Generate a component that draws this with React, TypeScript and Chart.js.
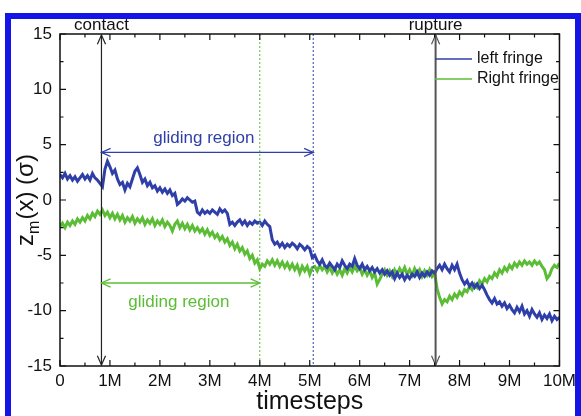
import { useEffect, useRef } from 'react';
import { Chart, registerables } from 'chart.js';

Chart.register(...registerables);

const W = 581;
const H = 416;
const FONT = "'Liberation Sans', Arial, Helvetica, sans-serif";

// time grid (in millions of timesteps)
const TIME_STEP_M = 0.05;

const leftFringe = [
  2.3, 2.0, 2.4, 1.9, 2.2, 1.8, 2.1, 1.7, 2.0, 2.3, 1.9, 2.2, 1.8, 2.4, 2.0, 1.8, 1.5, 1.2, 2.8, 3.5,
  3.0, 2.4, 2.7, 1.9, 1.4, 1.6, 0.9, 1.5, 1.2, 1.9, 2.6, 2.9, 2.3, 1.6, 1.9, 1.3, 1.6, 1.1, 1.3, 0.8,
  1.1, 0.7, 1.0, 0.6, 0.9, 0.4, 0.6, -0.4, -0.2, 0.1, -0.1, 0.2, 0.0, -0.2, -0.1, -1.1, -1.3, -0.9, -1.2, -1.0,
  -1.2, -0.9, -1.1, -1.3, -0.8, -1.1, -0.9, -1.2, -2.2, -2.0, -2.3, -2.0, -1.8, -2.2, -1.9, -2.3, -2.0, -2.2, -1.9, -2.1,
  -2.0, -2.3, -1.9, -2.2, -2.4, -3.6, -4.0, -3.8, -4.2, -3.9, -4.3, -4.0, -4.2, -3.9, -4.1, -4.4, -4.0, -4.2, -4.5, -4.2,
  -4.4, -5.2, -5.0, -5.5, -5.8, -5.4, -5.9, -6.1, -5.7, -6.0, -6.3, -5.8, -6.1, -5.5, -5.9, -6.2, -5.8, -6.0, -5.3, -5.9,
  -6.2, -5.8, -6.3, -6.0, -6.4, -6.1, -6.5, -6.2, -6.6, -6.3, -6.7, -6.4, -6.8, -6.5, -7.1, -6.6, -7.0, -6.7, -7.2, -6.8,
  -7.1, -6.7, -6.9, -6.5, -7.0, -6.6, -6.9, -6.5, -6.8, -6.4, -6.6, -6.2, -5.9, -6.3, -5.8, -6.2, -6.5, -5.9, -6.3, -5.8,
  -6.6, -7.2, -7.6, -7.3, -7.8, -7.5, -7.9, -7.6, -8.0, -7.7, -8.1, -8.6, -9.0, -9.3, -8.9, -9.4, -9.2, -9.6, -9.3, -9.8,
  -9.5, -9.9, -10.2, -9.7, -10.1, -9.6, -10.3, -10.0, -10.5, -9.9, -10.3, -10.6, -10.2, -10.8, -10.4, -10.7, -10.3, -10.9, -10.5, -10.8,
  -10.6,
];

const rightFringe = [
  -2.4, -2.1, -2.5, -2.0, -2.3, -1.9, -2.2, -1.7, -2.0, -1.6, -1.9, -1.4, -1.7, -1.2, -1.5, -1.0, -1.3, -0.9, -1.4, -1.1,
  -1.6, -1.2, -1.7, -1.3, -1.8, -1.4, -2.0, -1.6, -1.9, -1.5, -2.1, -1.7, -2.0, -1.6, -2.2, -1.8, -2.1, -1.7, -2.3, -1.9,
  -2.2, -1.8, -2.4, -2.0, -2.3, -2.8, -2.2, -1.9, -2.5, -2.1, -2.6, -2.2, -2.7, -2.3, -2.8, -2.5, -2.9, -2.6, -3.1, -2.7,
  -3.2, -2.9, -3.4, -3.1, -3.6, -3.3, -3.8, -3.5, -4.1, -3.8, -4.4, -4.0, -4.6, -4.3, -4.9, -4.6, -5.3, -5.0, -5.7, -5.4,
  -6.2, -5.8, -6.0, -5.5, -5.8, -5.4, -5.9, -5.5, -6.0, -5.6, -6.1, -5.7, -6.2, -5.8, -6.3, -5.9, -6.6, -6.0, -6.4, -6.0,
  -6.7, -6.1, -6.0, -6.4, -5.9, -6.3, -6.0, -6.5, -6.1, -6.6, -6.2, -6.7, -6.3, -6.8, -6.2, -6.6, -6.1, -6.5, -6.0, -6.4,
  -6.1, -6.7, -6.3, -6.8, -6.4, -7.0, -6.6, -7.6, -7.2, -6.7, -6.3, -6.8, -6.4, -6.9, -6.3, -6.7, -6.2, -6.6, -6.1, -6.7,
  -6.3, -6.8, -6.2, -6.7, -6.3, -6.9, -6.4, -6.8, -6.3, -6.9, -6.6, -8.0, -8.8, -9.4, -9.0, -9.2, -8.7, -9.0, -8.5, -8.8,
  -8.3, -8.6, -8.1, -8.3, -7.8, -8.1, -7.6, -7.9, -7.3, -7.6, -7.1, -7.4, -6.9, -7.1, -6.6, -6.9, -6.3, -6.6, -6.1, -6.4,
  -5.9, -6.2, -5.7, -6.0, -5.6, -5.9, -5.5, -5.8, -5.6, -5.9, -5.5, -5.8, -5.6, -6.0, -6.3, -7.1, -6.8, -6.2, -5.9, -6.1,
  -5.7,
];

const seriesLabels = ['left fringe', 'Right fringe'];
const xTicks = [0, 1, 2, 3, 4, 5, 6, 7, 8, 9, 10];
const yTicks = [-15, -10, -5, 0, 5, 10, 15];

// annotation positions (data units)
const contactAt = 0.83;
const ruptureAt = 7.52;
const greenGlideEnd = 4.0;
const blueGlideEnd = 5.07;
const blueArrowY = 4.3;
const greenArrowY = -7.5;
const blueTextPos = { x: 2.88, y: 5.6 };
const greenTextPos = { x: 2.38, y: -9.2 };

const BLUE = '#2f3fa8';
const GREEN = '#5bbd35';
const FRAME = '#1414e6';

function arrowHead(ctx: CanvasRenderingContext2D, x: number, y: number, ang: number, len = 10) {
  const a = 0.42;
  ctx.beginPath();
  ctx.moveTo(x - len * Math.cos(ang - a), y - len * Math.sin(ang - a));
  ctx.lineTo(x, y);
  ctx.lineTo(x - len * Math.cos(ang + a), y - len * Math.sin(ang + a));
  ctx.stroke();
}

const decor = {
  id: 'decor',
  beforeDraw(chart: any) {
    const ctx = chart.ctx as CanvasRenderingContext2D;
    ctx.save();
    ctx.fillStyle = '#fff';
    ctx.fillRect(0, 0, W, H);
    ctx.strokeStyle = FRAME;
    ctx.lineWidth = 6;
    ctx.strokeRect(8, 16, W - 11, H + 20);
    ctx.restore();
  },
  afterDatasetsDraw(chart: any) {
    const ctx = chart.ctx as CanvasRenderingContext2D;
    const xs = chart.scales.x;
    const ys = chart.scales.y;
    const { top, bottom } = chart.chartArea;
    ctx.save();
    // dotted lines
    ctx.setLineDash([2, 2]);
    ctx.lineWidth = 1;
    ctx.strokeStyle = GREEN;
    let px = xs.getPixelForValue(greenGlideEnd);
    ctx.beginPath(); ctx.moveTo(px, top); ctx.lineTo(px, bottom); ctx.stroke();
    ctx.strokeStyle = BLUE;
    px = xs.getPixelForValue(blueGlideEnd);
    ctx.beginPath(); ctx.moveTo(px, top); ctx.lineTo(px, bottom); ctx.stroke();
    ctx.setLineDash([]);

    // contact / rupture arrows
    const vArrow = (v: number, color: string, lw: number) => {
      const x = xs.getPixelForValue(v);
      ctx.strokeStyle = color;
      ctx.lineWidth = lw;
      ctx.beginPath(); ctx.moveTo(x, top + 1); ctx.lineTo(x, bottom - 1); ctx.stroke();
      ctx.lineWidth = 1.2;
      arrowHead(ctx, x, top + 1, -Math.PI / 2);
      arrowHead(ctx, x, bottom - 1, Math.PI / 2);
    };
    vArrow(contactAt, '#222', 1.2);
    vArrow(ruptureAt, '#555', 2);

    // gliding arrows
    const hArrow = (x0: number, x1: number, yv: number, color: string) => {
      const a = xs.getPixelForValue(x0);
      const b = xs.getPixelForValue(x1);
      const y = ys.getPixelForValue(yv);
      ctx.strokeStyle = color;
      ctx.lineWidth = 1.3;
      ctx.beginPath(); ctx.moveTo(a, y); ctx.lineTo(b, y); ctx.stroke();
      arrowHead(ctx, a, y, Math.PI);
      arrowHead(ctx, b, y, 0);
    };
    hArrow(contactAt, blueGlideEnd, blueArrowY, BLUE);
    hArrow(contactAt, greenGlideEnd, greenArrowY, GREEN);

    ctx.font = `17px ${FONT}`;
    ctx.textAlign = 'center';
    ctx.textBaseline = 'middle';
    ctx.fillStyle = BLUE;
    ctx.fillText('gliding region', xs.getPixelForValue(blueTextPos.x), ys.getPixelForValue(blueTextPos.y));
    ctx.fillStyle = GREEN;
    ctx.fillText('gliding region', xs.getPixelForValue(greenTextPos.x), ys.getPixelForValue(greenTextPos.y));

    // contact / rupture labels
    ctx.fillStyle = '#111';
    ctx.font = `17px ${FONT}`;
    ctx.textBaseline = 'alphabetic';
    ctx.fillText('contact', xs.getPixelForValue(contactAt), 30);
    ctx.fillText('rupture', xs.getPixelForValue(ruptureAt), 30);
    ctx.restore();
  },
  afterDraw(chart: any) {
    const ctx = chart.ctx as CanvasRenderingContext2D;
    const xs = chart.scales.x;
    const ys = chart.scales.y;
    const { left, right, top, bottom } = chart.chartArea;
    ctx.save();
    ctx.strokeStyle = '#111';
    ctx.lineWidth = 1.5;
    ctx.strokeRect(left, top, right - left, bottom - top);
    ctx.lineWidth = 1.2;
    // x ticks (inward, top and bottom)
    for (let v = 0; v <= 10.001; v += 0.5) {
      const x = xs.getPixelForValue(v);
      const len = Math.abs(v - Math.round(v)) < 1e-6 ? 6 : 3.5;
      ctx.beginPath();
      ctx.moveTo(x, bottom); ctx.lineTo(x, bottom - len);
      ctx.moveTo(x, top); ctx.lineTo(x, top + len);
      ctx.stroke();
    }
    for (let v = -15; v <= 15.001; v += 2.5) {
      const y = ys.getPixelForValue(v);
      const len = Math.abs(v / 5 - Math.round(v / 5)) < 1e-6 ? 6 : 3.5;
      ctx.beginPath();
      ctx.moveTo(left, y); ctx.lineTo(left + len, y);
      ctx.moveTo(right, y); ctx.lineTo(right - len, y);
      ctx.stroke();
    }

    // axis titles
    ctx.fillStyle = '#111';
    ctx.font = `25px ${FONT}`;
    ctx.textAlign = 'center';
    ctx.textBaseline = 'alphabetic';
    ctx.fillText('timesteps', (left + right) / 2, 409);

    // y title: z_m(x) (σ)
    ctx.translate(33, (top + bottom) / 2);
    ctx.rotate(-Math.PI / 2);
    const big = `24px ${FONT}`;
    const small = `16px ${FONT}`;
    ctx.font = big;
    const wz = ctx.measureText('z').width;
    const wr = ctx.measureText('(x) (σ)').width;
    ctx.font = small;
    const wm = ctx.measureText('m').width;
    const total = wz + wm + 1 + wr;
    let cx = -total / 2;
    ctx.textAlign = 'left';
    ctx.font = big;
    ctx.fillText('z', cx, 0);
    cx += wz;
    ctx.font = small;
    ctx.fillText('m', cx, 6);
    cx += wm + 1;
    ctx.font = big;
    ctx.fillText('(x) (σ)', cx, 0);
    ctx.setTransform(1, 0, 0, 1, 0, 0);

    // legend
    ctx.font = `16px ${FONT}`;
    ctx.textBaseline = 'middle';
    ctx.textAlign = 'left';
    chart.data.datasets.forEach((ds: any, i: number) => {
      const y = 59 + i * 20;
      ctx.strokeStyle = ds.borderColor;
      ctx.lineWidth = 1.5;
      ctx.beginPath(); ctx.moveTo(435, y); ctx.lineTo(472, y); ctx.stroke();
      ctx.fillStyle = '#111';
      ctx.fillText(ds.label, 477, y);
    });
    ctx.restore();
  },
};

export default function App() {
  const ref = useRef<HTMLCanvasElement>(null);
  useEffect(() => {
    document.body.style.margin = '0';
    const times = leftFringe.map((_, i) => +(i * TIME_STEP_M).toFixed(2));
    const chart = new Chart(ref.current!, {
      type: 'line',
      data: {
        datasets: [
          {
            label: seriesLabels[0],
            data: times.map((t, i) => ({ x: t, y: leftFringe[i] })),
            borderColor: BLUE,
            borderWidth: 3,
            pointRadius: 0,
            tension: 0,
          },
          {
            label: seriesLabels[1],
            data: times.map((t, i) => ({ x: t, y: rightFringe[i] })),
            borderColor: GREEN,
            borderWidth: 3,
            pointRadius: 0,
            tension: 0,
          },
        ],
      },
      options: {
        responsive: false,
        animation: false,
        events: [],
        layout: { padding: { left: 0, right: 17, top: 34, bottom: 0 } },
        plugins: { legend: { display: false }, tooltip: { enabled: false } },
        scales: {
          x: {
            type: 'linear',
            min: 0,
            max: 10,
            afterFit: (s: any) => { s.height = 50; },
            afterBuildTicks: (s: any) => { s.ticks = xTicks.map((v) => ({ value: v })); },
            grid: { display: false, drawTicks: false },
            border: { display: false },
            ticks: {
              padding: 5,
              maxRotation: 0,
              autoSkip: false,
              color: '#111',
              font: { family: FONT, size: 17 },
              callback: (v: any) => (v === 0 ? '0' : `${v}M`),
            },
          },
          y: {
            min: -15,
            max: 15,
            afterFit: (s: any) => { s.width = 60; },
            afterBuildTicks: (s: any) => { s.ticks = yTicks.map((v) => ({ value: v })); },
            grid: { display: false, drawTicks: false },
            border: { display: false },
            ticks: {
              padding: 8,
              color: '#111',
              font: { family: FONT, size: 17 },
            },
          },
        },
      },
      plugins: [decor],
    });
    return () => chart.destroy();
  }, []);
  return (
    <div style={{ width: W, height: H }}>
      <canvas ref={ref} width={W} height={H} style={{ display: 'block', width: W, height: H }} />
    </div>
  );
}
